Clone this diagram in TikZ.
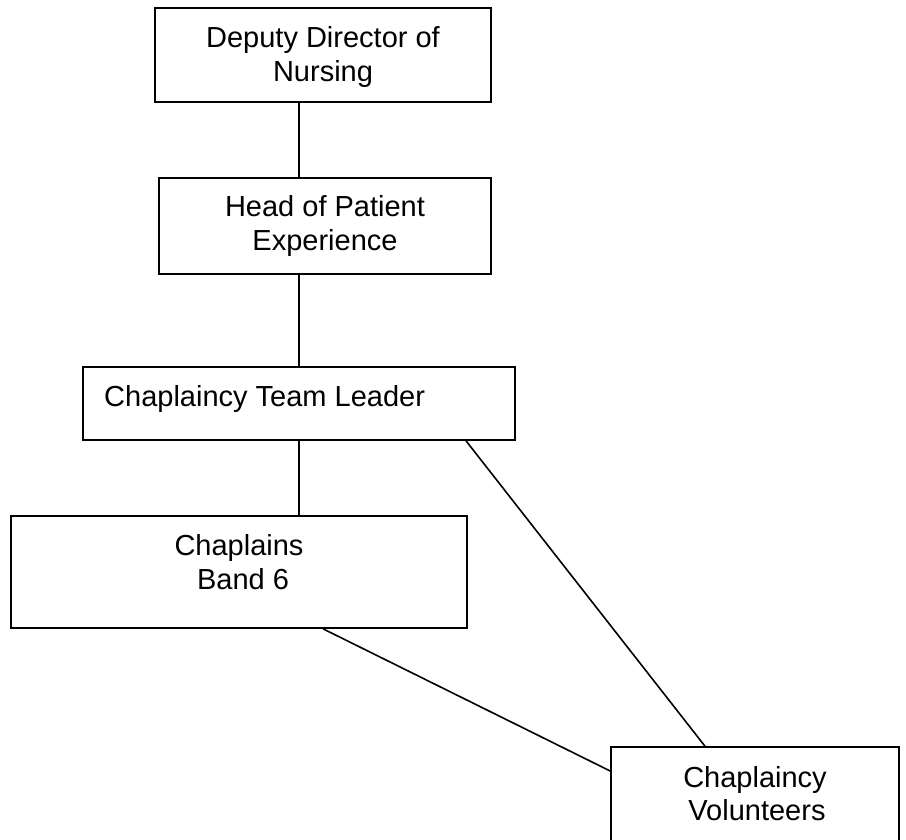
\documentclass[tikz,border=0pt]{standalone}
\usepackage{fontspec}
\setmainfont{Liberation Sans}
\begin{document}
\begin{tikzpicture}[x=1pt,y=-1pt,
  box/.style={draw,line width=1.6pt,rectangle,inner sep=0pt},
  lbl/.style={font=\fontsize{29}{33.5}\selectfont,inner sep=0pt,anchor=base},
  conn/.style={line width=1.6pt}]
\useasboundingbox (0,0) rectangle (906,839);
\clip (0,0) rectangle (906,839);
% boxes
\node[box,minimum width=336pt,minimum height=94pt]  (dd)  at (323,55)    {};
\node[box,minimum width=332pt,minimum height=96pt]  (hp)  at (325,226)   {};
\node[box,minimum width=432pt,minimum height=73pt]  (ctl) at (299,403.5) {};
\node[box,minimum width=456pt,minimum height=112pt] (ch)  at (239,572)   {};
\node[box,minimum width=288pt,minimum height=103pt] (vol) at (755,798.5) {};
% labels
\node[lbl] (dd1) at (323,47) {Deputy Director of};
\node[lbl] (dd2) at (323,81) {Nursing};
\node[lbl] (hp1) at (325,216) {Head of Patient};
\node[lbl] (hp2) at (325,250) {Experience};
\node[lbl,anchor=base west] (ctl1) at (104,406) {Chaplaincy Team Leader};
\node[lbl] (ch1) at (239,555) {Chaplains};
\node[lbl] (ch2) at (243,589) {Band 6};
\node[lbl] (vol1) at (755,787) {Chaplaincy};
\node[lbl] (vol2) at (757,820) {Volunteers};
% connectors
\coordinate (vx) at (299,0);
\coordinate (ax) at (466,0);
\coordinate (bx) at (705,0);
\coordinate (cx) at (323,0);
\coordinate (cy) at (0,771);
\draw[conn] (vx |- dd.south) -- (vx |- hp.north);
\draw[conn] (vx |- hp.south) -- (vx |- ctl.north);
\draw[conn] (vx |- ctl.south) -- (vx |- ch.north);
\draw[conn] (ax |- ctl.south) -- (bx |- vol.north);
\draw[conn] (cx |- ch.south) -- (vol.west |- cy);
\end{tikzpicture}
\end{document}
